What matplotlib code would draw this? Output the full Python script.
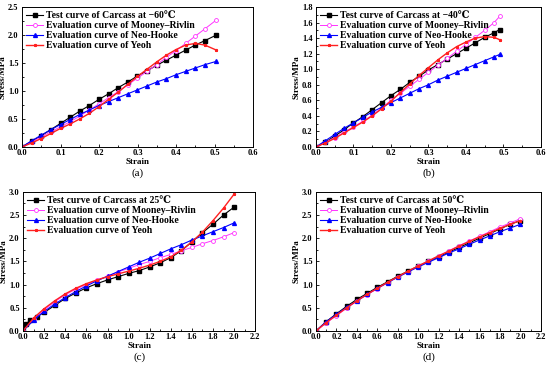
import matplotlib
matplotlib.use("Agg")
import matplotlib.pyplot as plt
from matplotlib.ticker import MultipleLocator, AutoMinorLocator

plt.rcParams['font.family'] = ['Liberation Serif', 'DejaVu Serif']
plt.rcParams['font.weight'] = 'bold'

# ---- panel (a): -60 C ----
xa = [0, 0.025, 0.05, 0.075, 0.1, 0.125, 0.15, 0.175, 0.2, 0.225, 0.25,
      0.275, 0.3, 0.325, 0.35, 0.375, 0.4, 0.425, 0.45, 0.475, 0.505]
test_a = [0, 0.1, 0.2, 0.31, 0.42, 0.53, 0.64, 0.74, 0.85, 0.95, 1.06,
          1.16, 1.27, 1.36, 1.46, 1.55, 1.64, 1.73, 1.82, 1.9, 2.0]
mr_a = [0, 0.09, 0.18, 0.27, 0.36, 0.45, 0.55, 0.66, 0.77, 0.88, 0.99,
        1.11, 1.23, 1.35, 1.47, 1.6, 1.72, 1.85, 1.98, 2.11, 2.27]
nh_a = [0, 0.11, 0.21, 0.31, 0.4, 0.49, 0.58, 0.66, 0.74, 0.81, 0.88,
        0.95, 1.02, 1.09, 1.16, 1.22, 1.29, 1.35, 1.41, 1.47, 1.53]
yeoh_a = [0, 0.07, 0.15, 0.24, 0.33, 0.41, 0.5, 0.6, 0.72, 0.85, 0.98,
          1.12, 1.26, 1.39, 1.52, 1.64, 1.74, 1.82, 1.85, 1.82, 1.73]

# ---- panel (b): -40 C ----
xb = [0, 0.025, 0.05, 0.075, 0.1, 0.125, 0.15, 0.175, 0.2, 0.225, 0.25,
      0.275, 0.3, 0.325, 0.35, 0.375, 0.4, 0.425, 0.45, 0.475, 0.49]
test_b = [0, 0.06, 0.14, 0.22, 0.31, 0.39, 0.48, 0.57, 0.66, 0.74, 0.83,
          0.91, 0.99, 1.06, 1.13, 1.2, 1.27, 1.34, 1.41, 1.47, 1.51]
mr_b = [0, 0.06, 0.12, 0.19, 0.26, 0.33, 0.41, 0.5, 0.6, 0.69, 0.78,
        0.87, 0.96, 1.05, 1.14, 1.23, 1.32, 1.41, 1.5, 1.6, 1.68]
nh_b = [0, 0.08, 0.16, 0.24, 0.31, 0.38, 0.45, 0.51, 0.57, 0.63, 0.69,
        0.75, 0.8, 0.86, 0.91, 0.96, 1.01, 1.06, 1.11, 1.16, 1.19]
yeoh_b = [0, 0.05, 0.11, 0.18, 0.25, 0.32, 0.4, 0.49, 0.59, 0.7, 0.81,
          0.92, 1.02, 1.12, 1.21, 1.29, 1.35, 1.4, 1.42, 1.41, 1.38]

# ---- panel (c): 25 C ----
xc_test = [0, 0.03, 0.07, 0.13, 0.2, 0.3, 0.4, 0.5, 0.6, 0.7, 0.8, 0.9, 1.0,
           1.1, 1.2, 1.3, 1.4, 1.5, 1.6, 1.7, 1.8, 1.9, 2.0]
test_c = [0, 0.15, 0.24, 0.31, 0.4, 0.55, 0.7, 0.82, 0.93, 1.02, 1.1, 1.17, 1.24,
          1.3, 1.38, 1.47, 1.58, 1.73, 1.92, 2.12, 2.3, 2.5, 2.67]
xc = [0, 0.1, 0.2, 0.3, 0.4, 0.5, 0.6, 0.7, 0.8, 0.9, 1.0,
      1.1, 1.2, 1.3, 1.4, 1.5, 1.6, 1.7, 1.8, 1.9, 2.0]
mr_c = [0, 0.25, 0.45, 0.63, 0.78, 0.9, 1.0, 1.09, 1.18, 1.27, 1.35,
        1.43, 1.5, 1.58, 1.65, 1.73, 1.8, 1.88, 1.95, 2.03, 2.12]
nh_c = [0, 0.23, 0.42, 0.58, 0.72, 0.85, 0.97, 1.08, 1.18, 1.28, 1.38,
        1.48, 1.57, 1.67, 1.77, 1.86, 1.96, 2.05, 2.14, 2.23, 2.33]
yeoh_c = [0, 0.28, 0.48, 0.65, 0.8, 0.92, 1.02, 1.1, 1.17, 1.23, 1.29,
          1.35, 1.42, 1.5, 1.6, 1.74, 1.92, 2.13, 2.38, 2.65, 2.95]

# ---- panel (d): 50 C ----
xd = [0, 0.1, 0.2, 0.3, 0.4, 0.5, 0.6, 0.7, 0.8, 0.9, 1.0,
      1.1, 1.2, 1.3, 1.4, 1.5, 1.6, 1.7, 1.8, 1.9, 2.0]
test_d = [0, 0.2, 0.37, 0.53, 0.68, 0.81, 0.94, 1.06, 1.18, 1.29, 1.4,
          1.5, 1.6, 1.7, 1.8, 1.9, 2.0, 2.1, 2.2, 2.3, 2.38]
mr_d = [0, 0.17, 0.33, 0.49, 0.64, 0.78, 0.91, 1.04, 1.16, 1.28, 1.4,
        1.51, 1.62, 1.73, 1.84, 1.94, 2.04, 2.14, 2.24, 2.33, 2.42]
nh_d = [0, 0.2, 0.36, 0.51, 0.65, 0.79, 0.92, 1.04, 1.16, 1.27, 1.38,
        1.48, 1.58, 1.68, 1.77, 1.87, 1.96, 2.05, 2.14, 2.22, 2.3]
yeoh_d = [0, 0.18, 0.34, 0.5, 0.65, 0.79, 0.92, 1.05, 1.17, 1.29, 1.4,
          1.51, 1.62, 1.72, 1.83, 1.93, 2.03, 2.12, 2.21, 2.3, 2.38]

temps = ['\u221260\u2103', '\u221240\u2103', '25\u2103', '50\u2103']
tags = ['(a)', '(b)', '(c)', '(d)']

fig = plt.figure(figsize=(5.5, 3.71), dpi=100)
boxes = [[0.040, 0.604, 0.420, 0.377],
         [0.5745, 0.604, 0.409, 0.377],
         [0.042, 0.108, 0.422, 0.375],
         [0.5745, 0.108, 0.409, 0.375]]

panels = [
    (xa, test_a, xa, mr_a, nh_a, yeoh_a, 0.6, 0.1, 2.5, 0.5),
    (xb, test_b, xb, mr_b, nh_b, yeoh_b, 0.6, 0.1, 1.8, 0.2),
    (xc_test, test_c, xc, mr_c, nh_c, yeoh_c, 2.2, 0.2, 3.0, 0.5),
    (xd, test_d, xd, mr_d, nh_d, yeoh_d, 2.2, 0.2, 3.0, 0.5),
]

for i, (xt, yt, xe, ym, yn, yy, xmax, xstep, ymax, ystep) in enumerate(panels):
    ax = fig.add_axes(boxes[i])
    ax.plot(xt, yt, color='black', marker='s', ms=2.6, lw=0.8,
            label='Test curve of Carcass at ' + temps[i])
    ax.plot(xe, ym, color='#ff33ff', marker='o', ms=2.8, mfc='white', mew=0.6, lw=0.7,
            label='Evaluation curve of Mooney\u2013Rivlin')
    ax.plot(xe, yn, color='#0000ff', marker='^', ms=2.8, lw=0.8,
            label='Evaluation curve of Neo-Hooke')
    ax.plot(xe, yy, color='#ff2020', marker='*', ms=2.0, lw=1.0,
            label='Evaluation curve of Yeoh')
    ax.set_xlim(0, xmax)
    ax.set_ylim(0, ymax)
    ax.xaxis.set_major_locator(MultipleLocator(xstep))
    ax.yaxis.set_major_locator(MultipleLocator(ystep))
    ax.xaxis.set_minor_locator(AutoMinorLocator(2))
    ax.yaxis.set_minor_locator(AutoMinorLocator(2))
    ax.xaxis.set_major_formatter(plt.FormatStrFormatter('%.1f'))
    ax.yaxis.set_major_formatter(plt.FormatStrFormatter('%.1f'))
    ax.tick_params(direction='in', which='both', labelsize=6, pad=1.5,
                   width=0.6)
    ax.tick_params(axis='y', which='major', pad=2.5)
    ax.tick_params(which='major', length=2.5)
    ax.tick_params(which='minor', length=1.5)
    for s in ax.spines.values():
        s.set_linewidth(0.7)
    ax.set_xlabel('Strain', fontsize=6.5, fontweight='bold', labelpad=0.5)
    ax.set_ylabel('Stress/MPa', fontsize=6.5, fontweight='bold', labelpad=1)
    ax.legend(loc='upper left', fontsize=7, frameon=False,
              handlelength=1.7, handletextpad=0.3, labelspacing=0.1,
              borderaxespad=0.25, borderpad=0.2)
    pos = ax.get_position()
    fig.text(pos.x0 + pos.width / 2, pos.y0 - 0.07, tags[i],
             ha='center', va='center', fontsize=8, fontweight='normal')

fig.savefig('out.png', dpi=100)
